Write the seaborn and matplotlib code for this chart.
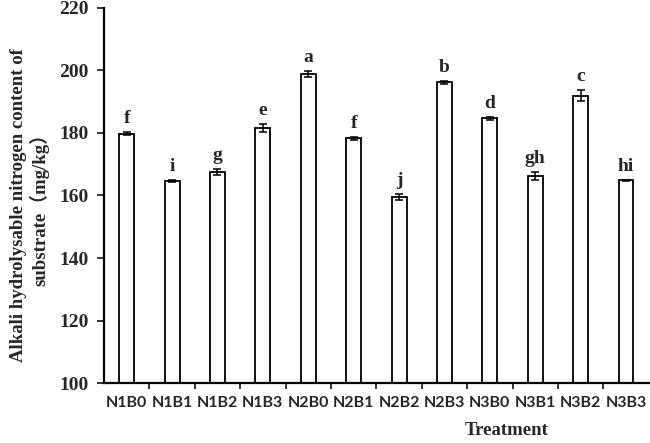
import matplotlib
matplotlib.use("Agg")
import matplotlib.pyplot as plt
import seaborn as sns
import pandas as pd
import numpy as np

# Data
treatments = ["N1B0", "N1B1", "N1B2", "N1B3", "N2B0", "N2B1",
              "N2B2", "N2B3", "N3B0", "N3B1", "N3B2", "N3B3"]
means = [179.7, 164.6, 167.6, 181.6, 198.9, 178.3,
         159.5, 196.2, 184.7, 166.3, 191.9, 164.8]
errors = [0.5, 0.2, 1.0, 1.2, 1.0, 0.5, 1.0, 0.5, 0.5, 1.2, 1.8, 0.3]
letters = ["f", "i", "g", "e", "a", "f", "j", "b", "d", "gh", "c", "hi"]

df = pd.DataFrame({"Treatment": treatments, "Value": means})

sns.set_style("ticks")
serif = ["Liberation Serif", "Noto Sans CJK SC"]

fig = plt.figure(figsize=(6.5, 4.43), dpi=100)
ax = fig.add_axes([0.16, 0.1354, 0.838, 0.8466])

sns.barplot(data=df, x="Treatment", y="Value", color="white",
            edgecolor="black", linewidth=1.3, width=0.33,
            errorbar=None, ax=ax)
for p in ax.patches:
    p.set_facecolor("white")

x = np.arange(len(treatments))
ax.errorbar(x, means, yerr=errors, fmt="none", ecolor="black",
            elinewidth=1.1, capsize=3, capthick=1.1)

for xi, m, e, lab in zip(x, means, errors, letters):
    ax.text(xi, m + e + 1.6, lab, ha="center", va="bottom",
            fontsize=14, fontweight="bold", family=serif)

ax.set_ylim(100, 220)
ax.set_xlim(-0.5, len(treatments) - 0.5)
ax.set_yticks(np.arange(100, 221, 20))
ax.set_yticklabels([str(v) for v in range(100, 221, 20)],
                   fontsize=14, fontweight="bold", family=serif)

# x ticks: labels at centres, tick marks at category boundaries
ax.set_xticks(x)
ax.set_xticklabels(treatments, fontsize=11.5, fontweight="bold", family="Lato")
ax.tick_params(axis="x", which="major", length=0, pad=9)
ax.set_xticks(np.arange(0.5, len(treatments) - 0.5, 1), minor=True)
ax.tick_params(axis="x", which="minor", length=4, width=1.3, direction="out")
ax.tick_params(axis="y", length=5, width=1.3, direction="out", pad=6)

for side in ["top", "right"]:
    ax.spines[side].set_visible(False)
for side in ["left", "bottom"]:
    ax.spines[side].set_linewidth(1.6)
    ax.spines[side].set_color("black")

ax.set_ylabel("Alkali hydrolysable nitrogen content of\nsubstrate（mg/kg）",
              fontsize=13.5, fontweight="bold", family=serif, linespacing=1.15)
ax.yaxis.set_label_coords(-0.1, 0.475)
ax.set_xlabel("Treatment", fontsize=13.5, fontweight="bold", family=serif)
ax.xaxis.set_label_coords(0.74, -0.105)

fig.savefig("out.png", dpi=100)
